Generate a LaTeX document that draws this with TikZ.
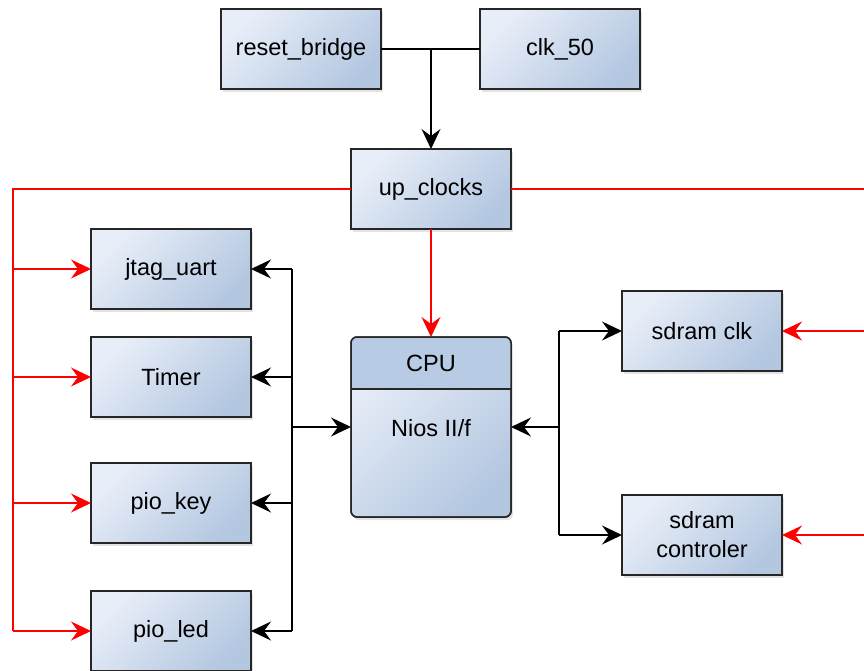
\documentclass[tikz,border=0pt]{standalone}
\usepackage{fontspec}
\setmainfont{Liberation Sans}
\usetikzlibrary{arrows.meta,shadows,calc}
\definecolor{boxlight}{HTML}{E8EEF8}
\definecolor{boxdark}{HTML}{B4C7E1}
\definecolor{cpuhead}{HTML}{B8CBE4}
\def\blockfont{\fontsize{23.5}{29}\selectfont}
\tikzset{
  block/.style={draw=black!85, line width=1.5pt, minimum width=160pt, minimum height=80pt,
    top color=boxlight, bottom color=boxdark, shading angle=45,
    drop shadow={shadow xshift=2pt, shadow yshift=-3pt, opacity=0.22},
    font=\blockfont, align=center, inner sep=0pt, outer sep=0pt},
  wire/.style={line width=1.5pt},
  bus/.style={wire, -{Stealth[length=20pt,width=19pt,inset=7pt]}},
  clkline/.style={wire, red},
  clkbus/.style={bus, red},
}

\begin{document}
\begin{tikzpicture}[x=1pt,y=-1pt]
				%%%%% START %%%%%
				\useasboundingbox (0,0) rectangle (864,670);

				\node[block] (reset) at (301,49) {reset\_bridge};
				\node[block] (clk) at (560,49) {clk\_50};
				\node[block] (upclk) at (431,189) {up\_clocks};

				\node[block] (jtag) at (171,269) {jtag\_uart};
				\node[block] (timer) at (171,377) {Timer};
				\node[block] (key) at (171,503) {pio\_key};
				\node[block] (led) at (171,631) {pio\_led};

				\node[block] (sdclk) at (702,331) {sdram clk};
				\node[block] (sdctl) at (702,535) {sdram\\controler};

				% cpu with a darker head
				\node[block, minimum height=180pt, rounded corners=6pt] (cpu) at (431,427) {};
				\begin{scope}
					\clip[rounded corners=6pt] (cpu.south west) rectangle (cpu.north east);
					\fill[cpuhead] (cpu.north west) rectangle ($(cpu.north east)+(0,52)$);
				\end{scope}
				\draw[draw=black!85, line width=1.5pt, rounded corners=6pt] (cpu.south west) rectangle (cpu.north east);
				\draw[draw=black!85, line width=1.5pt] ($(cpu.north west)+(0,52)$) -- ($(cpu.north east)+(0,52)$);
				\node[font=\blockfont] (cputitle) at ($(cpu.north)+(0,26)$) {CPU};
				\node[font=\blockfont] (cpucore) at ($(cpu.north)+(0,91)$) {Nios II/f};

				% reset + clock into up_clocks
				\coordinate (join) at (upclk.north |- reset.east);
				\draw[wire] (reset.east) -- (clk.west);
				\draw[bus] (join) -- (upclk.north);

				% clock lines
				\coordinate (lred) at (13,189);
				\coordinate (rred) at (864,189);
				\draw[clkline] (upclk.west) -- (lred) -- (lred |- led.west);
				\foreach \n in {jtag,timer,key,led}
					\draw[clkbus] (lred |- \n.west) -- (\n.west);
				\draw[clkline] (upclk.east) -- (rred);
				\draw[clkbus] (upclk.south) -- (cpu.north);
				\foreach \n in {sdclk,sdctl}
					\draw[clkbus] (rred |- \n.east) -- (\n.east);

				% left bus
				\coordinate (lbus) at (292,427);
				\draw[bus] (lbus) -- (cpu.west);
				\draw[wire] (lbus |- jtag.east) -- (lbus |- led.east);
				\foreach \n in {jtag,timer,key,led}
					\draw[bus] (lbus |- \n.east) -- (\n.east);

				% right bus
				\coordinate (rbus) at (559,427);
				\draw[bus] (rbus) -- (cpu.east);
				\draw[wire] (rbus |- sdclk.west) -- (rbus |- sdctl.west);
				\foreach \n in {sdclk,sdctl}
					\draw[bus] (rbus |- \n.west) -- (\n.west);
				%%%%% END %%%%%
\end{tikzpicture}
\end{document}
